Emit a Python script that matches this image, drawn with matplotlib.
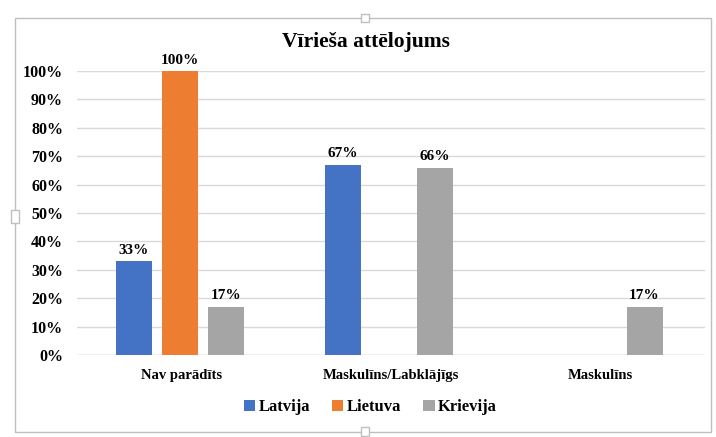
import matplotlib.pyplot as plt
import numpy as np
from matplotlib.patches import Rectangle

categories = ["Nav parādīts", "Maskulīns/Labklājīgs", "Maskulīns"]
series_names = ["Latvija", "Lietuva", "Krievija"]
latvija = [0.33, 0.67, 0.0]
lietuva = [1.00, 0.0, 0.0]
krievija = [0.17, 0.66, 0.17]
colors = ["#4472C4", "#ED7D31", "#A5A5A5"]

plt.rcParams['font.family'] = ['Liberation Serif', 'DejaVu Serif']
plt.rcParams['font.weight'] = 'bold'

fig = plt.figure(figsize=(7.16, 4.37), dpi=100)
ax = fig.add_axes([0.1075, 0.1876, 0.8775, 0.65])

x = np.arange(len(categories))
width = 0.172
step = 0.22
for i, (name, vals) in enumerate(zip(series_names, [latvija, lietuva, krievija])):
    pos = x + (i - 1) * step - 0.01
    bars = ax.bar(pos, vals, width, color=colors[i], label=name, zorder=3)
    for b, v in zip(bars, vals):
        if v > 0:
            ax.text(b.get_x() + b.get_width() / 2, v + 0.015, f"{round(v * 100)}%",
                    ha='center', va='bottom', fontsize=11, fontweight='bold')

ax.set_xlim(-0.5, 2.5)
ax.set_ylim(0, 1.0)
ax.set_yticks(np.arange(0, 1.01, 0.1))
ax.set_yticklabels([f"{int(t)}%" for t in np.arange(0, 101, 10)], fontsize=11.5, fontweight='bold')
ax.set_xticks(x)
ax.set_xticklabels(categories, fontsize=10.5, fontweight='bold')
ax.tick_params(axis='both', length=0)
ax.tick_params(axis='y', pad=10)
ax.tick_params(axis='x', pad=10)
ax.yaxis.grid(True, color='#D9D9D9', linewidth=1, zorder=0)
for s in ax.spines.values():
    s.set_visible(False)
ax.axhline(0, color='#D9D9D9', linewidth=1, zorder=1)

fig.text(0.511, 0.905, "Vīrieša attēlojums", ha='center', va='center',
         fontsize=15.5, fontweight='bold')

fig.legend(loc='center', bbox_to_anchor=(0.517, 0.068), ncol=3, frameon=False,
           handlelength=0.7, handleheight=0.7, handletextpad=0.2,
           columnspacing=1.3, prop={'weight': 'bold', 'size': 12})

fig.patches.append(Rectangle((0.021, 0.012), 0.972, 0.947, transform=fig.transFigure,
                             fill=False, edgecolor='#BFBFBF', linewidth=1))
# small resize handles on the frame
for hx, hy, w, h in [(0.504, 0.949, 0.012, 0.02), (0.015, 0.49, 0.012, 0.03),
                     (0.504, 0.002, 0.012, 0.02)]:
    fig.patches.append(Rectangle((hx, hy), w, h, transform=fig.transFigure,
                                 facecolor='white', edgecolor='#BFBFBF', linewidth=1))

fig.savefig("out.png", dpi=100)
